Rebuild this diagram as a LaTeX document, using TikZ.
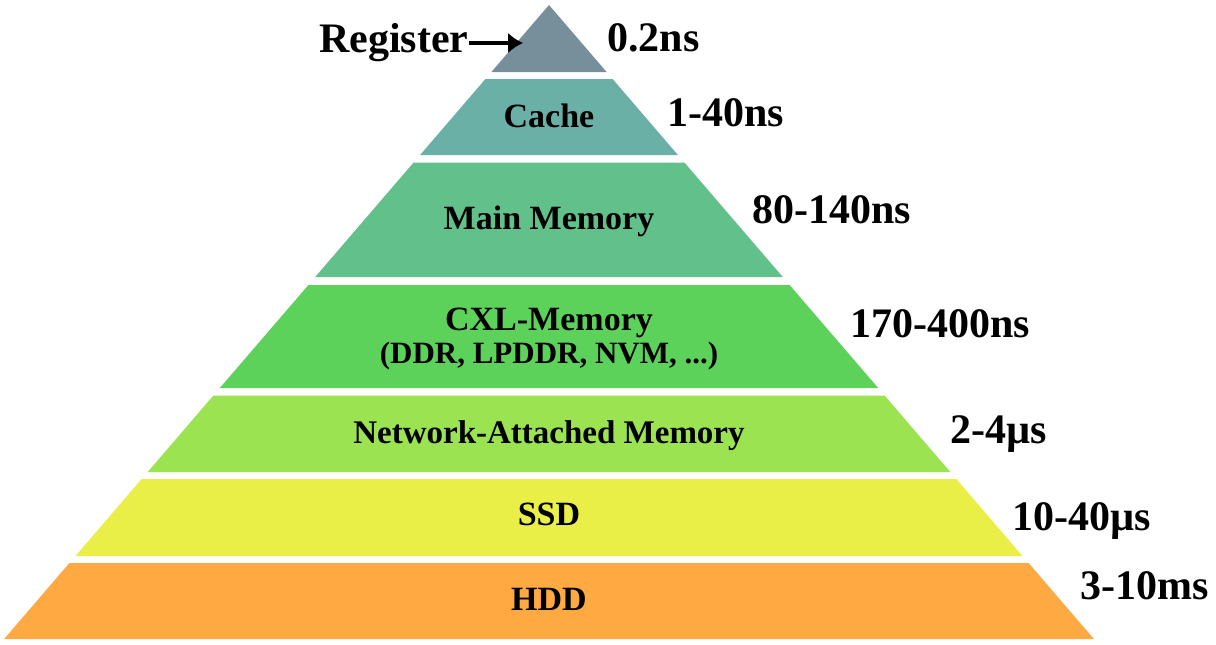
\documentclass[tikz,border=0pt]{standalone}
\usepackage{fontspec}
\setmainfont{Liberation Serif}
\usetikzlibrary{arrows.meta}
\definecolor{regcol}{HTML}{778E9B}
\definecolor{cachecol}{HTML}{6AB0A6}
\definecolor{maincol}{HTML}{62C18B}
\definecolor{cxlcol}{HTML}{5DD25A}
\definecolor{netcol}{HTML}{9BE350}
\definecolor{ssdcol}{HTML}{E9EF47}
\definecolor{hddcol}{HTML}{FEA942}

\begin{document}
\begin{tikzpicture}[x=1pt, y=-1pt,
        every node/.style={inner sep=0pt},
        lvl/.style={font=\bfseries\fontsize{34}{36}\selectfont, anchor=base},
        lat/.style={font=\bfseries\fontsize{42}{44}\selectfont, anchor=base west}]
        \useasboundingbox (0,0) rectangle (1216,645);
        % pyramid layers
        \fill[regcol] (549,5) -- (606.6,72) -- (491.4,72) -- cycle;
        \fill[cachecol] (485.4,79) -- (612.6,79) -- (677.9,155) -- (420.1,155) -- cycle;
        \fill[maincol] (413.6,162.5) -- (684.4,162.5) -- (782.8,277) -- (315.2,277) -- cycle;
        \fill[cxlcol] (308.4,285) -- (789.6,285) -- (878.2,388) -- (219.8,388) -- cycle;
        \fill[netcol] (213.4,395.5) -- (884.6,395.5) -- (950.3,472) -- (147.7,472) -- cycle;
        \fill[ssdcol] (141.6,479) -- (956.4,479) -- (1022.5,556) -- (75.5,556) -- cycle;
        \fill[hddcol] (69.4,563) -- (1028.6,563) -- (1093.9,639) -- (4.1,639) -- cycle;
        % layer names
        \node[lvl] (cache) at (549,127) {Cache};
        \node[lvl] (main) at (549,229) {Main Memory};
        \node[lvl] (cxl) at (549,330) {CXL-Memory};
        \node[lvl, font=\bfseries\fontsize{31}{33}\selectfont] (cxlsub) at (549,363) {(DDR, LPDDR, NVM, ...)};
        \node[lvl, font=\bfseries\fontsize{33}{35}\selectfont] (net) at (549,443) {Network-Attached Memory};
        \node[lvl] (ssd) at (549,525) {SSD};
        \node[lvl] (hdd) at (549,610) {HDD};
        % latencies
        \node[lat] (t0) at (607,51) {0.2ns};
        \node[lat] (t1) at (667,126) {1-40ns};
        \node[lat] (t2) at (752,223) {80-140ns};
        \node[lat] (t3) at (850,337) {170-400ns};
        \node[lat] (t4) at (950,443) {2-4µs};
        \node[lat] (t5) at (1012,530) {10-40µs};
        \node[lat] (t6) at (1080,599) {3-10ms};
        % register pointer
        \node[lat] (reg) at (319,52) {Register};
        \coordinate (regtip) at (523,43);
        \draw[-{Latex[length=15pt,width=21pt]}, line width=4.5pt] (reg.east |- regtip) -- (regtip);
\end{tikzpicture}
\end{document}
